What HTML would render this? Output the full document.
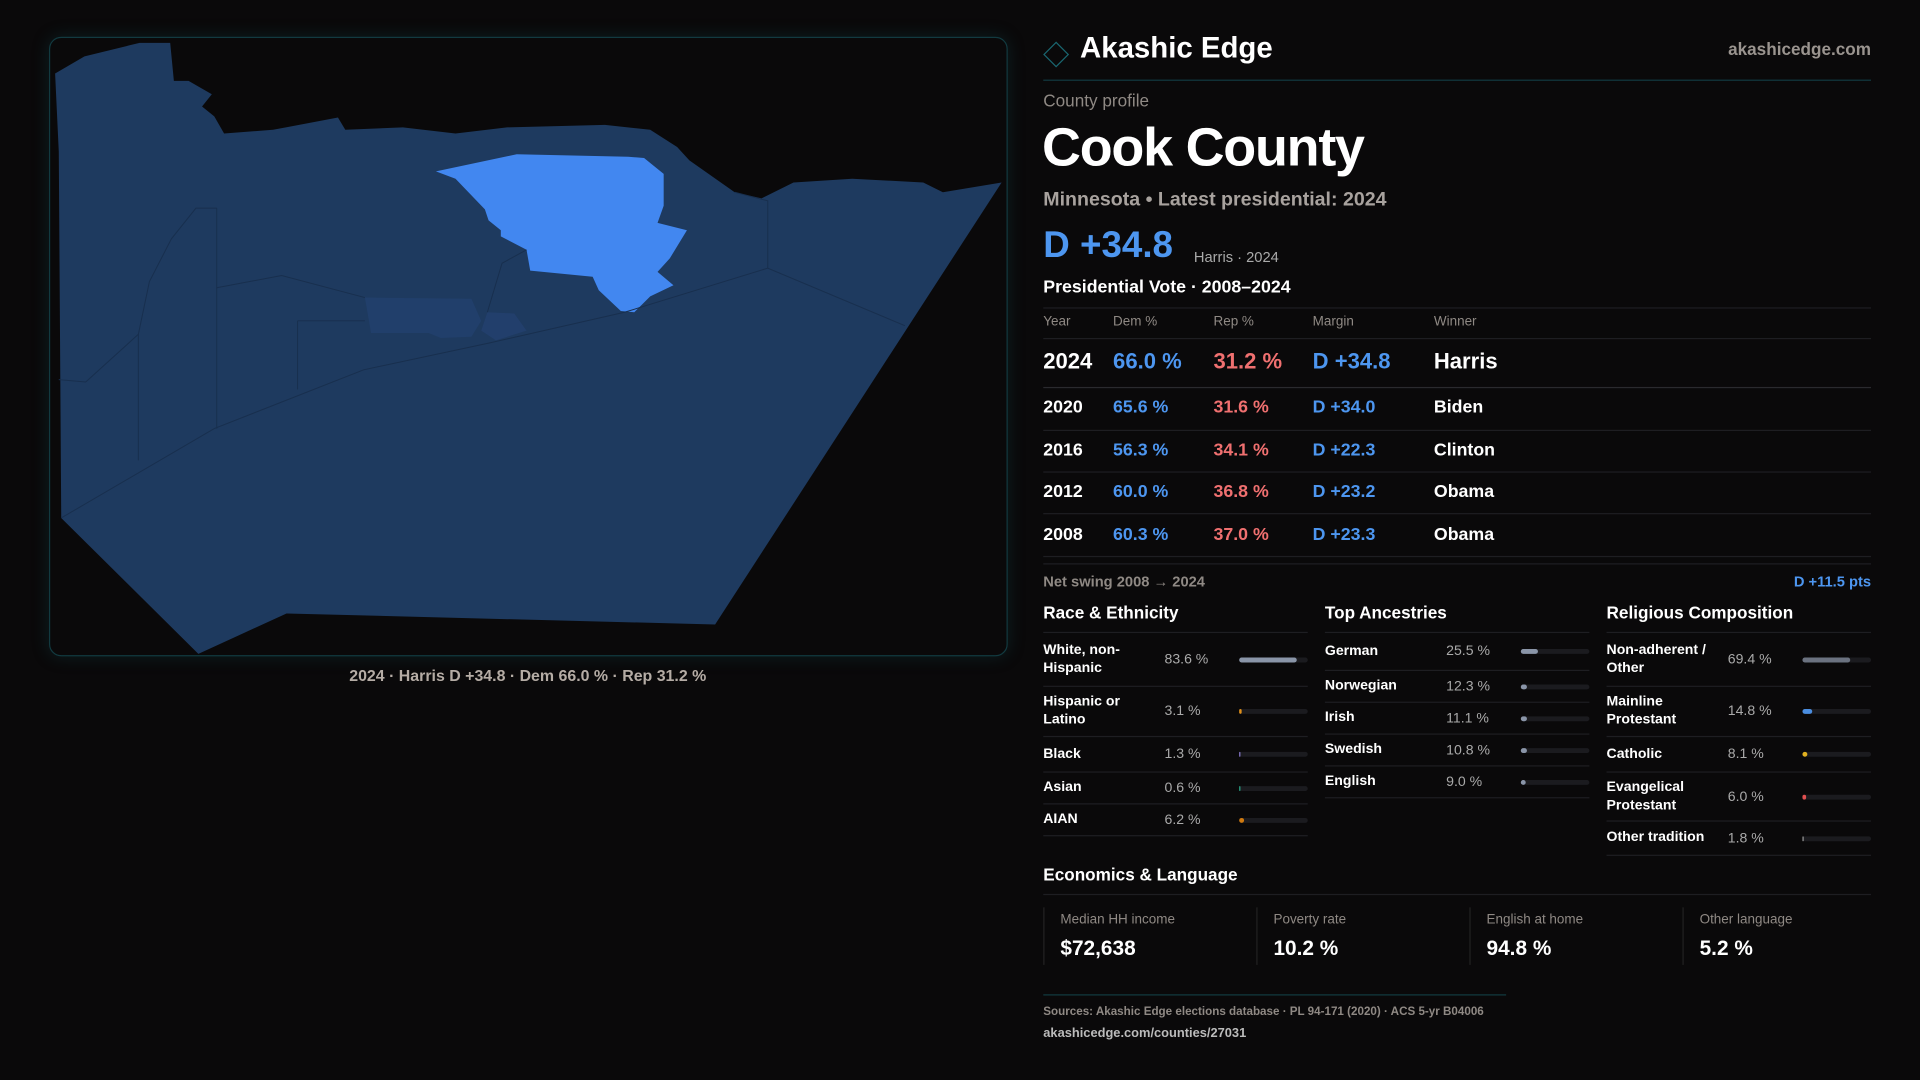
<!DOCTYPE html>
<html><head><meta charset="utf-8"><style>
html,body{margin:0;padding:0;background:#0a090a;width:1920px;height:1080px;overflow:hidden}
#w{position:absolute;left:0;top:0;width:1568px;height:882px;transform:scale(1.22449);transform-origin:0 0;font-family:"Liberation Sans",sans-serif;color:#fff}
.a{position:absolute;white-space:nowrap}
.g{color:#8f8984}
.line{position:absolute;height:1px;background:#1e1e22}
.blue{color:#4d96f0}.red{color:#f07070}
.col{position:absolute;width:216px}
.row{display:flex;align-items:center;border-bottom:1px solid #1e1e22;font-size:11.5px;font-weight:bold}
.row .l{width:99px;line-height:15px}
.row .v{width:61px;color:#aaa;font-weight:normal}
.track{width:56px;height:4px;background:#1b1b1f;border-radius:2px;position:relative}
.track i{position:absolute;left:0;top:0;height:4px;border-radius:2px}
.card{position:absolute;top:741px;height:47px;border-left:1px solid #222;padding-left:13px}
.card .k{font-size:11px;color:#8f8984;margin-top:4px}
.card .n{font-size:17px;font-weight:bold;margin-top:8px}
</style></head><body><div id="w">
<!-- map -->
<div class="a" style="left:40px;top:30px;width:781px;height:504px;border:1px solid #123a40;border-radius:10px;box-shadow:0 0 14px rgba(20,90,100,0.25)"></div>
<svg class="a" style="left:0;top:0" width="830" height="545" viewBox="0 0 830 545">
<polygon fill="#1e3a5f" points="45,60 69,46 114,35 139,35 142,66 154,66 173,77 165,87 175,95 183,109 223,106 276,96 282,106 329,104 372,109 414,104 494,102 531,106 553,120 563,131 600,157 622,162 648,149 696,146 754,149 770,157 818,149 584,510 234,501 162,534 50,423 48,124"/>
<polygon fill="#213f6b" points="298,243 385,244 393,262 385,275 360,276 350,272 303,272"/>
<polygon fill="#223f6c" points="398,255 420,256 430,270 405,278 393,270"/>
<polygon fill="#4287f0" points="356,140 422,126 513,128 526,129 542,142 542,168 537,182 561,188 547,211 537,222 550,233 531,242 518,255 507,254 489,237 484,226 433,221 430,204 409,193 409,188 399,180 396,171 372,146"/>
<g fill="none" stroke="#182f4e" stroke-width="0.8">
<polyline points="50,423 175,350 297,302 400,280 510,255 627,219 739,266"/>
<polyline points="627,219 627,164 600,157"/>
<polyline points="113,273 113,376"/><polyline points="177,170 177,350"/>
<polyline points="48,310 70,312 113,273 122,230 140,195 160,170 177,170"/>
<polyline points="177,235 230,225 298,243"/><polyline points="243,262 298,262"/><polyline points="243,262 243,318"/>
<polyline points="430,204 410,215 398,255"/>
</g></svg>
<div class="a" style="left:0;width:862px;top:544px;text-align:center;font-size:13px;font-weight:bold;color:#b5aca5">2024 · Harris D +34.8 · Dem 66.0 % · Rep 31.2 %</div>

<!-- header -->
<div class="a" style="left:855px;top:37px;width:13px;height:13px;border:1.5px solid #1a6670;transform:rotate(45deg)"></div>
<div class="a" style="left:882px;top:26px;font-size:24px;font-weight:bold">Akashic Edge</div>
<div class="a g" style="right:40px;top:32px;font-size:14px;font-weight:bold;color:#9a948f">akashicedge.com</div>
<div class="line" style="left:852px;width:676px;top:65px;background:#123a40"></div>
<div class="a g" style="left:852px;top:74px;font-size:14px">County profile</div>
<div class="a" style="left:851px;top:96px;font-size:44px;font-weight:bold;letter-spacing:-1px">Cook County</div>
<div class="a" style="left:852px;top:155px;font-size:16px;font-weight:bold;color:#a8a29e">Minnesota • Latest presidential: 2024</div>
<div class="a blue" style="left:852px;top:184px;font-size:30px;font-weight:bold">D +34.8</div>
<div class="a" style="left:975px;top:203px;font-size:12px;color:#aaa">Harris · 2024</div>
<div class="a" style="left:852px;top:227px;font-size:14.5px;font-weight:bold">Presidential Vote · 2008–2024</div>
<div class="line" style="left:852px;width:676px;top:251px"></div>
<div class="a g" style="left:852px;top:257px;font-size:11px">Year</div>
<div class="a g" style="left:909px;top:257px;font-size:11px">Dem %</div>
<div class="a g" style="left:991px;top:257px;font-size:11px">Rep %</div>
<div class="a g" style="left:1072px;top:257px;font-size:11px">Margin</div>
<div class="a g" style="left:1171px;top:257px;font-size:11px">Winner</div>
<div class="line" style="left:852px;width:676px;top:276px"></div>
<div class="a" style="left:852px;top:285px;font-size:18px;font-weight:bold">2024</div>
<div class="a blue" style="left:909px;top:285px;font-size:18px;font-weight:bold">66.0 %</div>
<div class="a red" style="left:991px;top:285px;font-size:18px;font-weight:bold">31.2 %</div>
<div class="a blue" style="left:1072px;top:285px;font-size:18px;font-weight:bold">D +34.8</div>
<div class="a" style="left:1171px;top:285px;font-size:18px;font-weight:bold">Harris</div>
<div class="line" style="left:852px;width:676px;top:316px;background:#2a2a2e"></div>
<div style="position:absolute;left:852px;top:316px;width:676px;font-size:14.5px;font-weight:bold">
<div style="position:relative;height:35px;border-bottom:1px solid #1e1e22"><span class="a" style="left:0;top:9px">2020</span><span class="a blue" style="left:57px;top:9px">65.6 %</span><span class="a red" style="left:139px;top:9px">31.6 %</span><span class="a blue" style="left:220px;top:9px">D +34.0</span><span class="a" style="left:319px;top:9px">Biden</span></div>
<div style="position:relative;height:33px;border-bottom:1px solid #1e1e22"><span class="a" style="left:0;top:8px">2016</span><span class="a blue" style="left:57px;top:8px">56.3 %</span><span class="a red" style="left:139px;top:8px">34.1 %</span><span class="a blue" style="left:220px;top:8px">D +22.3</span><span class="a" style="left:319px;top:8px">Clinton</span></div>
<div style="position:relative;height:33px;border-bottom:1px solid #1e1e22"><span class="a" style="left:0;top:8px">2012</span><span class="a blue" style="left:57px;top:8px">60.0 %</span><span class="a red" style="left:139px;top:8px">36.8 %</span><span class="a blue" style="left:220px;top:8px">D +23.2</span><span class="a" style="left:319px;top:8px">Obama</span></div>
<div style="position:relative;height:34px;border-bottom:1px solid #1e1e22"><span class="a" style="left:0;top:9px">2008</span><span class="a blue" style="left:57px;top:9px">60.3 %</span><span class="a red" style="left:139px;top:9px">37.0 %</span><span class="a blue" style="left:220px;top:9px">D +23.3</span><span class="a" style="left:319px;top:9px">Obama</span></div>
</div>
<div class="line" style="left:852px;width:676px;top:460px"></div>
<div class="a g" style="left:852px;top:468px;font-size:12px;font-weight:bold">Net swing 2008 → 2024</div>
<div class="a blue" style="right:40px;top:468px;font-size:12px;font-weight:bold">D +11.5 pts</div>

<!-- columns -->
<div class="a" style="left:852px;top:492px;font-size:14px;font-weight:bold">Race &amp; Ethnicity</div>
<div class="a" style="left:1082px;top:492px;font-size:14px;font-weight:bold">Top Ancestries</div>
<div class="a" style="left:1312px;top:492px;font-size:14px;font-weight:bold">Religious Composition</div>
<div class="col" style="left:852px;top:516px;border-top:1px solid #1e1e22">
<div class="row" style="height:43px"><div class="l">White, non-<br>Hispanic</div><div class="v">83.6 %</div><div class="track"><i style="width:47px;background:#8a95a8"></i></div></div>
<div class="row" style="height:40px"><div class="l">Hispanic or<br>Latino</div><div class="v">3.1 %</div><div class="track"><i style="width:2px;background:#e0901a"></i></div></div>
<div class="row" style="height:28px"><div class="l">Black</div><div class="v">1.3 %</div><div class="track"><i style="width:1px;background:#8a7ad0"></i></div></div>
<div class="row" style="height:25px"><div class="l">Asian</div><div class="v">0.6 %</div><div class="track"><i style="width:1px;background:#2aa889"></i></div></div>
<div class="row" style="height:25px"><div class="l">AIAN</div><div class="v">6.2 %</div><div class="track"><i style="width:4px;background:#d07a10"></i></div></div>
</div>
<div class="col" style="left:1082px;top:516px;border-top:1px solid #1e1e22">
<div class="row" style="height:30px"><div class="l">German</div><div class="v">25.5 %</div><div class="track"><i style="width:14px;background:#8a95a8"></i></div></div>
<div class="row" style="height:25px"><div class="l">Norwegian</div><div class="v">12.3 %</div><div class="track"><i style="width:5px;background:#8a95a8"></i></div></div>
<div class="row" style="height:25px"><div class="l">Irish</div><div class="v">11.1 %</div><div class="track"><i style="width:5px;background:#8a95a8"></i></div></div>
<div class="row" style="height:25px"><div class="l">Swedish</div><div class="v">10.8 %</div><div class="track"><i style="width:5px;background:#8a95a8"></i></div></div>
<div class="row" style="height:25px"><div class="l">English</div><div class="v">9.0 %</div><div class="track"><i style="width:4px;background:#8a95a8"></i></div></div>
</div>
<div class="col" style="left:1312px;top:516px;border-top:1px solid #1e1e22">
<div class="row" style="height:43px"><div class="l">Non-adherent /<br>Other</div><div class="v">69.4 %</div><div class="track"><i style="width:39px;background:#6b7280"></i></div></div>
<div class="row" style="height:40px"><div class="l">Mainline<br>Protestant</div><div class="v">14.8 %</div><div class="track"><i style="width:8px;background:#4a8de0"></i></div></div>
<div class="row" style="height:28px"><div class="l">Catholic</div><div class="v">8.1 %</div><div class="track"><i style="width:4px;background:#e0b020"></i></div></div>
<div class="row" style="height:39px"><div class="l">Evangelical<br>Protestant</div><div class="v">6.0 %</div><div class="track"><i style="width:3px;background:#e05050"></i></div></div>
<div class="row" style="height:27px"><div class="l">Other tradition</div><div class="v">1.8 %</div><div class="track"><i style="width:1px;background:#999"></i></div></div>
</div>

<!-- economics -->
<div class="a" style="left:852px;top:706px;font-size:14px;font-weight:bold">Economics &amp; Language</div>
<div class="line" style="left:852px;width:676px;top:730px"></div>
<div class="card" style="left:852px"><div class="k">Median HH income</div><div class="n">$72,638</div></div>
<div class="card" style="left:1026px"><div class="k">Poverty rate</div><div class="n">10.2 %</div></div>
<div class="card" style="left:1200px"><div class="k">English at home</div><div class="n">94.8 %</div></div>
<div class="card" style="left:1374px"><div class="k">Other language</div><div class="n">5.2 %</div></div>
<div class="line" style="left:852px;width:378px;top:812px;background:#123a40"></div>
<div class="a g" style="left:852px;top:821px;font-size:9.5px;font-weight:bold">Sources: Akashic Edge elections database · PL 94-171 (2020) · ACS 5-yr B04006</div>
<div class="a" style="left:852px;top:838px;font-size:10.5px;font-weight:bold;color:#bbb">akashicedge.com/counties/27031</div>
</div></body></html>
